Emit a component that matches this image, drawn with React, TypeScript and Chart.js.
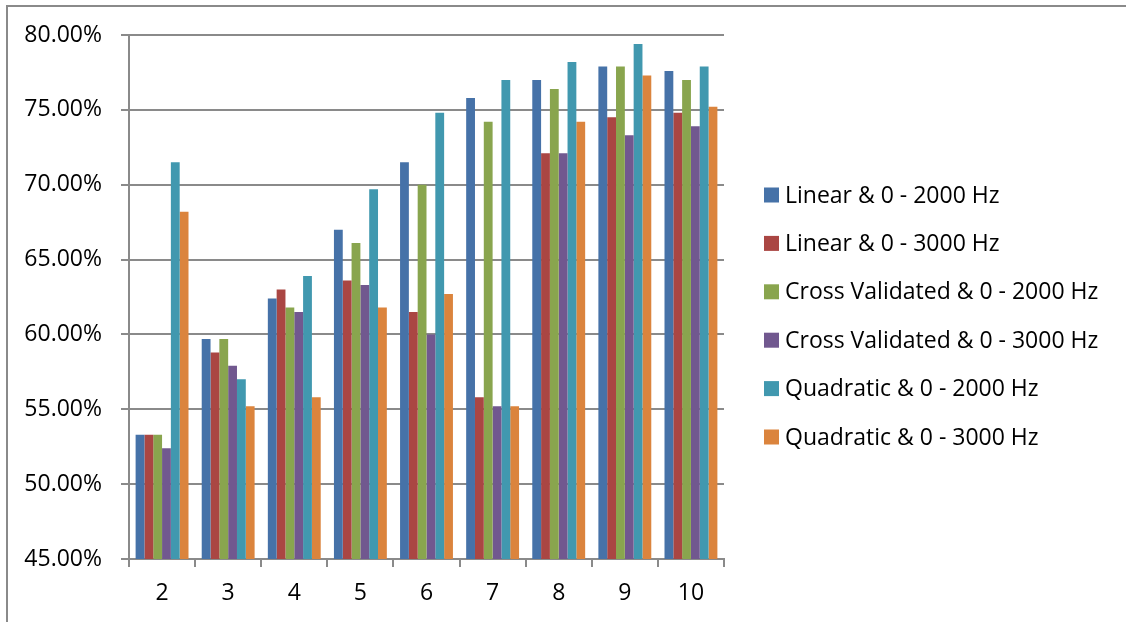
import React, { useEffect, useRef } from "react";
import { Chart, registerables } from "chart.js";

Chart.register(...registerables);

const categories = ["2", "3", "4", "5", "6", "7", "8", "9", "10"];
const seriesNames = [
  "Linear & 0 - 2000 Hz",
  "Linear & 0 - 3000 Hz",
  "Cross Validated & 0 - 2000 Hz",
  "Cross Validated & 0 - 3000 Hz",
  "Quadratic & 0 - 2000 Hz",
  "Quadratic & 0 - 3000 Hz",
];
const linear2000 = [53.3, 59.7, 62.4, 67.0, 71.5, 75.8, 77.0, 77.9, 77.6];
const linear3000 = [53.3, 58.8, 63.0, 63.6, 61.5, 55.8, 72.1, 74.5, 74.8];
const cross2000 = [53.3, 59.7, 61.8, 66.1, 70.0, 74.2, 76.4, 77.9, 77.0];
const cross3000 = [52.4, 57.9, 61.5, 63.3, 60.0, 55.2, 72.1, 73.3, 73.9];
const quad2000 = [71.5, 57.0, 63.9, 69.7, 74.8, 77.0, 78.2, 79.4, 77.9];
const quad3000 = [68.2, 55.2, 55.8, 61.8, 62.7, 55.2, 74.2, 77.3, 75.2];
const seriesColors = ["#4672A8", "#AA4643", "#89A54E", "#71588F", "#4198AF", "#DB843D"];
const yMin = 45;
const yMax = 80;
const yStep = 5;

const FONT = "'Open Sans', 'Noto Sans', sans-serif";
const FONT_SIZE = 23;

export default function App() {
  const ref = useRef<HTMLCanvasElement | null>(null);

  useEffect(() => {
    if (!ref.current) return;
    const values = [linear2000, linear3000, cross2000, cross3000, quad2000, quad3000];

    const framePlugin = {
      id: "frame",
      beforeDraw(chart: any) {
        const ctx = chart.ctx;
        ctx.save();
        ctx.fillStyle = "#ffffff";
        ctx.fillRect(0, 0, chart.width, chart.height);
        ctx.strokeStyle = "#8a8a8a";
        ctx.lineWidth = 2;
        ctx.beginPath();
        ctx.moveTo(7, chart.height);
        ctx.lineTo(7, 6);
        ctx.lineTo(chart.width, 6);
        ctx.stroke();
        ctx.restore();
      },
    };

    const legendPlugin = {
      id: "customLegend",
      afterDraw(chart: any) {
        const ctx = chart.ctx;
        ctx.save();
        ctx.font = `${FONT_SIZE}px ${FONT}`;
        ctx.textBaseline = "middle";
        ctx.textAlign = "left";
        chart.data.datasets.forEach((ds: any, i: number) => {
          const cy = 195 + i * 48.4;
          ctx.fillStyle = ds.backgroundColor;
          ctx.fillRect(764, cy - 7.5, 15, 15);
          ctx.fillStyle = "#000000";
          ctx.fillText(ds.label, 785, cy + 1);
        });
        ctx.restore();
      },
    };

    const chart = new Chart(ref.current, {
      type: "bar",
      data: {
        labels: categories,
        datasets: seriesNames.map((name, i) => ({
          label: name,
          data: values[i],
          backgroundColor: seriesColors[i],
          borderWidth: 0,
          categoryPercentage: 0.8,
          barPercentage: 1.0,
        })),
      },
      options: {
        responsive: false,
        animation: false,
        devicePixelRatio: 1,
        layout: { padding: { left: 0, right: 402, top: 35, bottom: 14 } },
        plugins: {
          legend: { display: false },
          tooltip: { enabled: false },
        },
        scales: {
          x: {
            grid: {
              display: true,
              drawOnChartArea: false,
              drawTicks: true,
              tickLength: 8,
              color: "#8a8a8a",
              lineWidth: 2,
            },
            border: { display: true, color: "#8a8a8a", width: 2 },
            ticks: {
              color: "#000000",
              font: { family: FONT, size: FONT_SIZE },
              padding: 13,
              maxRotation: 0,
            },
            afterFit(scale: any) {
              scale.height = 622 - 14 - 559;
            },
          },
          y: {
            min: yMin,
            max: yMax,
            grid: {
              color: "#8a8a8a",
              lineWidth: 2,
              drawTicks: true,
              tickLength: 8,
            },
            border: { display: true, color: "#8a8a8a", width: 2 },
            ticks: {
              stepSize: yStep,
              color: "#000000",
              font: { family: FONT, size: FONT_SIZE },
              padding: 19,
              callback: (v: any) => Number(v).toFixed(2) + "%",
            },
            afterFit(scale: any) {
              scale.width = 129;
            },
          },
        },
      },
      plugins: [framePlugin, legendPlugin],
    });
    return () => chart.destroy();
  }, []);

  return (
    <div style={{ position: "fixed", left: 0, top: 0, width: 1126, height: 622, background: "#fff" }}>
      <canvas ref={ref} width={1126} height={622} style={{ display: "block" }} />
    </div>
  );
}
